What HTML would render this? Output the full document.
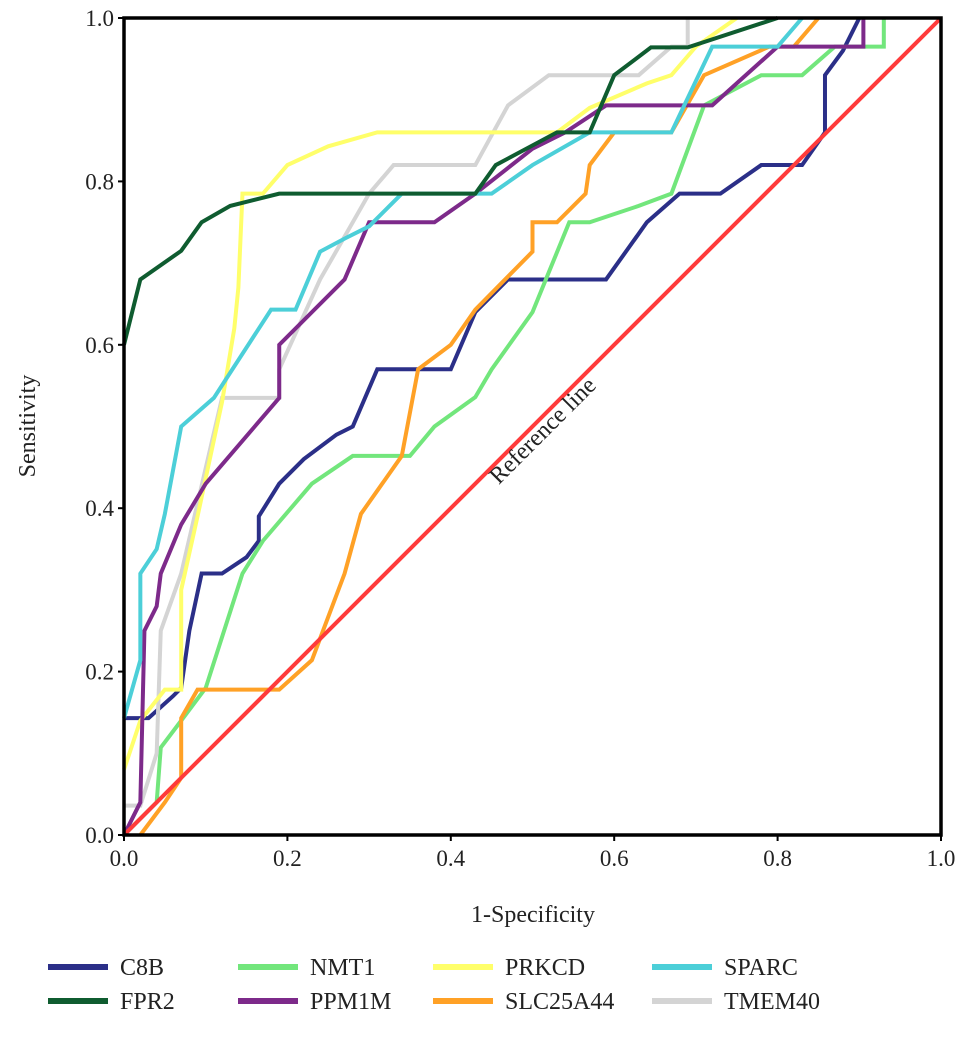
<!DOCTYPE html>
<html><head><meta charset="utf-8"><style>
html,body{margin:0;padding:0;background:#fff;}
svg{display:block;font-family:"Liberation Serif",serif;}
</style></head><body>
<svg id="chart" width="969" height="1051">
<g id="plot"></g>
</svg>
<script>
const ticks=[0,0.2,0.4,0.6,0.8,1.0];
const tickLabels=["0.0","0.2","0.4","0.6","0.8","1.0"];
const seriesNames=["C8B","FPR2","NMT1","PPM1M","PRKCD","SLC25A44","SPARC","TMEM40"];
const seriesColors=["#2b2f88","#0f5c30","#72e67c","#7d2a8a","#ffff6a","#ffa126","#4ccfd8","#d4d4d4"];
const C8B=[[0,0.143],[0.03,0.143],[0.06,0.17],[0.07,0.18],[0.08,0.25],[0.095,0.32],[0.12,0.32],[0.15,0.34],[0.165,0.36],[0.165,0.39],[0.19,0.43],[0.22,0.46],[0.26,0.49],[0.28,0.5],[0.31,0.57],[0.4,0.57],[0.43,0.64],[0.47,0.68],[0.59,0.68],[0.64,0.75],[0.68,0.785],[0.73,0.785],[0.78,0.82],[0.83,0.82],[0.858,0.86],[0.858,0.93],[0.88,0.96],[0.9,1.0]];
const FPR2=[[0,0.6],[0.02,0.68],[0.07,0.715],[0.095,0.75],[0.13,0.77],[0.19,0.785],[0.43,0.785],[0.455,0.82],[0.53,0.86],[0.57,0.86],[0.6,0.93],[0.645,0.964],[0.69,0.964],[0.8,1.0]];
const NMT1=[[0,0],[0.04,0.04],[0.045,0.107],[0.07,0.14],[0.1,0.18],[0.145,0.32],[0.17,0.36],[0.23,0.43],[0.28,0.464],[0.35,0.464],[0.38,0.5],[0.43,0.536],[0.45,0.57],[0.5,0.64],[0.545,0.75],[0.57,0.75],[0.63,0.77],[0.67,0.785],[0.71,0.893],[0.78,0.93],[0.83,0.93],[0.87,0.965],[0.93,0.965],[0.93,1.0]];
const PPM1M=[[0,0],[0.02,0.04],[0.025,0.25],[0.04,0.28],[0.045,0.32],[0.07,0.38],[0.1,0.43],[0.16,0.5],[0.19,0.535],[0.19,0.6],[0.23,0.64],[0.27,0.68],[0.3,0.75],[0.38,0.75],[0.43,0.785],[0.5,0.84],[0.54,0.86],[0.59,0.893],[0.72,0.893],[0.8,0.965],[0.905,0.965],[0.905,1.0]];
const PRKCD=[[0,0.08],[0.02,0.14],[0.05,0.178],[0.07,0.178],[0.07,0.3],[0.09,0.39],[0.12,0.53],[0.135,0.62],[0.14,0.67],[0.145,0.785],[0.17,0.785],[0.2,0.82],[0.25,0.843],[0.31,0.86],[0.53,0.86],[0.57,0.89],[0.64,0.92],[0.67,0.93],[0.7,0.965],[0.75,1.0]];
const SLC25A44=[[0.02,0],[0.05,0.04],[0.07,0.07],[0.07,0.143],[0.09,0.178],[0.19,0.178],[0.23,0.214],[0.27,0.32],[0.29,0.393],[0.34,0.464],[0.36,0.57],[0.4,0.6],[0.43,0.643],[0.5,0.714],[0.5,0.75],[0.53,0.75],[0.565,0.785],[0.57,0.82],[0.6,0.86],[0.67,0.86],[0.71,0.93],[0.79,0.965],[0.82,0.965],[0.85,1.0]];
const SPARC=[[0,0.143],[0.02,0.214],[0.02,0.32],[0.04,0.35],[0.05,0.393],[0.07,0.5],[0.11,0.535],[0.18,0.643],[0.21,0.643],[0.24,0.714],[0.27,0.73],[0.3,0.745],[0.34,0.785],[0.45,0.785],[0.5,0.82],[0.57,0.86],[0.67,0.86],[0.72,0.965],[0.8,0.965],[0.83,1.0]];
const TMEM40=[[0,0.036],[0.02,0.036],[0.04,0.1],[0.045,0.25],[0.07,0.32],[0.12,0.535],[0.19,0.535],[0.19,0.57],[0.24,0.68],[0.3,0.785],[0.33,0.82],[0.43,0.82],[0.47,0.893],[0.52,0.93],[0.63,0.93],[0.67,0.965],[0.69,0.965],[0.69,1.0]];
const allSeries=[C8B,FPR2,NMT1,PPM1M,PRKCD,SLC25A44,SPARC,TMEM40];
const drawOrder=[0,2,5,7,4,3,6,1];
const legendOrder=["C8B","NMT1","PRKCD","SPARC","FPR2","PPM1M","SLC25A44","TMEM40"];

const NS="http://www.w3.org/2000/svg";
const X0=124,X1=941,Y0=835,Y1=18;
const sx=v=>X0+(X1-X0)*v, sy=v=>Y0-(Y0-Y1)*v;
const svg=document.getElementById('chart');
function mk(tag,attrs,parent){const e=document.createElementNS(NS,tag);for(const k in attrs)e.setAttribute(k,attrs[k]);(parent||svg).appendChild(e);return e;}

drawOrder.forEach(i=>{
  const p=mk('polyline',{points:allSeries[i].map(d=>sx(d[0])+','+sy(d[1])).join(' '),fill:'none',stroke:seriesColors[i],'stroke-width':4,'stroke-linejoin':'miter'});
  
  
});
const rl=mk('line',{x1:sx(0),y1:sy(0),x2:sx(1),y2:sy(1),stroke:'#ff3b3b','stroke-width':4});


const rt=mk('text',{x:0,y:0,'font-size':24,fill:'#222','text-anchor':'middle',transform:'translate(548,436) rotate(-45)'});
rt.textContent='Reference line';



const fr=mk('rect',{x:X0,y:Y1,width:X1-X0,height:Y0-Y1,fill:'none',stroke:'#000','stroke-width':3.5});


ticks.forEach((t,i)=>{
  const a=mk('line',{x1:X0-6,y1:sy(t),x2:X0,y2:sy(t),stroke:'#000','stroke-width':2});
  
  
  const b=mk('text',{x:X0-10,y:sy(t)+8,'font-size':23,'text-anchor':'end',fill:'#222'});
  b.textContent=tickLabels[i];
  
  
  const c=mk('line',{x1:sx(t),y1:Y0,x2:sx(t),y2:Y0+6,stroke:'#000','stroke-width':2});
  
  
  const d=mk('text',{x:sx(t),y:Y0+31,'font-size':23,'text-anchor':'middle',fill:'#222'});
  d.textContent=tickLabels[i];
  
  
});
const xt=mk('text',{x:533,y:922,'font-size':24,'text-anchor':'middle',fill:'#222'});
xt.textContent='1-Specificity';


const yt=mk('text',{x:0,y:0,'font-size':24,'text-anchor':'middle',fill:'#222',transform:'translate(35,426) rotate(-90)'});
yt.textContent='Sensitivity';



const colX=[48,238,433,652], rowY=[967,1001];
legendOrder.forEach((n,k)=>{
  const i=seriesNames.indexOf(n);
  const cx=colX[k%4], cy=rowY[Math.floor(k/4)];
  const g=mk('g',{});
  
  
  mk('line',{x1:cx,y1:cy,x2:cx+60,y2:cy,stroke:seriesColors[i],'stroke-width':6},g);
  const t=mk('text',{x:cx+72,y:cy+8,'font-size':24,fill:'#222'},g);
  t.textContent=n;
});
</script>
</body></html>
